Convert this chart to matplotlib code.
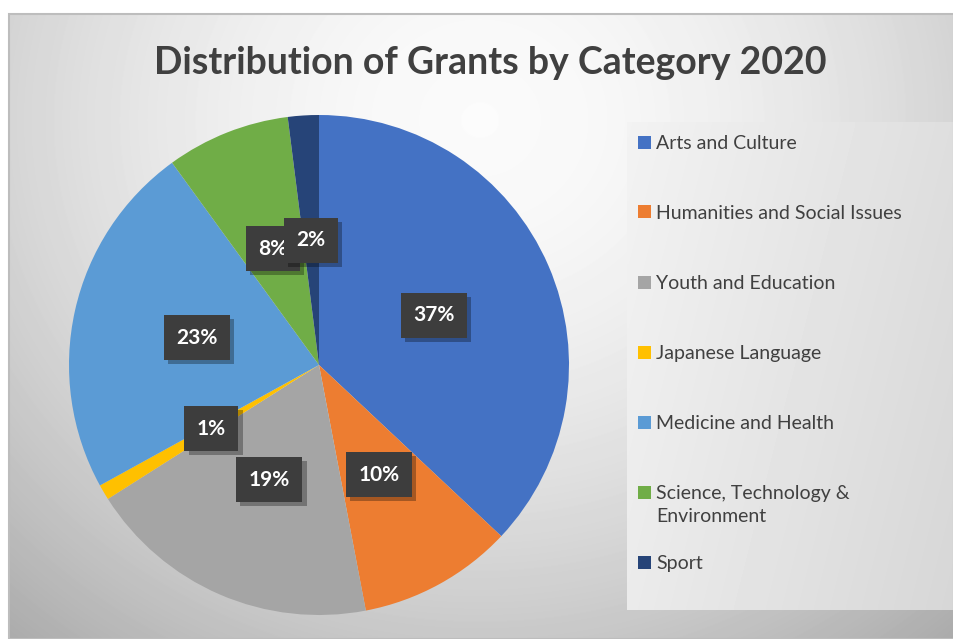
import numpy as np
import matplotlib
matplotlib.use("Agg")
import matplotlib.pyplot as plt
import matplotlib.patheffects as pe
from matplotlib.patches import Rectangle

# grant shares per category (percent)
categories = ["Arts and Culture", "Humanities and Social Issues", "Youth and Education",
              "Japanese Language", "Medicine and Health",
              "Science, Technology &\nEnvironment", "Sport"]
shares = [37, 10, 19, 1, 23, 8, 2]
colors = ["#4472C4", "#ED7D31", "#A5A5A5", "#FFC000", "#5B9BD5", "#70AD47", "#264478"]
title = "Distribution of Grants by Category 2020"

W, H = 954, 639
fig = plt.figure(figsize=(W / 100, H / 100), dpi=100)
fig.patch.set_facecolor("white")

# soft radial grey background of the chart area
bg = fig.add_axes([9 / W, 0, 1 - 9 / W, (H - 14) / H])
yy, xx = np.mgrid[14:H, 9:W]
d = np.hypot((xx - 480) / 560.0, (yy - 120) / 520.0)
shade = 0.985 - 0.20 * np.clip(d, 0, 1.4) ** 1.7
bg.imshow(shade, cmap="gray", vmin=0, vmax=1, aspect="auto", interpolation="bilinear")
bg.set_axis_off()
fig.add_artist(Rectangle((9 / W, 0), 1 - 9 / W, (H - 14) / H, transform=fig.transFigure,
                         fill=False, edgecolor="#bdbdbd", lw=1.5))

fig.text(490 / W, 1 - 63 / H, title, ha="center", va="center", fontsize=27,
         fontweight="bold", color="#404040", family="Lato")

# legend panel
lg = fig.add_axes([627 / W, 1 - 610 / H, (W - 627) / W, (610 - 122) / H])
gy, gx = np.mgrid[0:100, 0:100]
lg.imshow(0.95 - 0.08 * (gx / 100.0) - 0.03 * (gy / 100.0), cmap="gray", vmin=0, vmax=1,
          aspect="auto", interpolation="bilinear")
lg.set_axis_off()

for i, (name, col) in enumerate(zip(categories, colors)):
    yc = 142 + 70 * i
    fig.add_artist(Rectangle((638 / W, 1 - (yc + 6.5) / H), 13 / W, 13 / H,
                             transform=fig.transFigure, facecolor=col, edgecolor="none"))
    fig.text(656 / W, 1 - (yc - 7) / H, name, ha="left", va="top", fontsize=14,
             color="#404040", family="Lato", linespacing=1.45)

# pie
ax = fig.add_axes([69 / W, 24 / H, 500 / W, 500 / H])
wedges, texts, autotexts = ax.pie(shares, colors=colors, startangle=90, counterclock=False,
                                  radius=1, autopct="%1.0f%%", pctdistance=0.5,
                                  wedgeprops=dict(linewidth=0),
                                  textprops=dict(color="white", fontsize=15,
                                                 fontweight="bold", family="Lato"))
ax.set_xlim(-1, 1)
ax.set_ylim(-1, 1)

for t in autotexts:
    t.set_bbox(dict(boxstyle="square,pad=0.6", facecolor="#3d3d3d", edgecolor="none"))
    t.set_zorder(5)
    t.get_bbox_patch().set_path_effects([
        pe.SimplePatchShadow(offset=(3, -3), shadow_rgbFace="black", alpha=0.3),
        pe.Normal()])

fig.savefig("out.png", dpi=100)
